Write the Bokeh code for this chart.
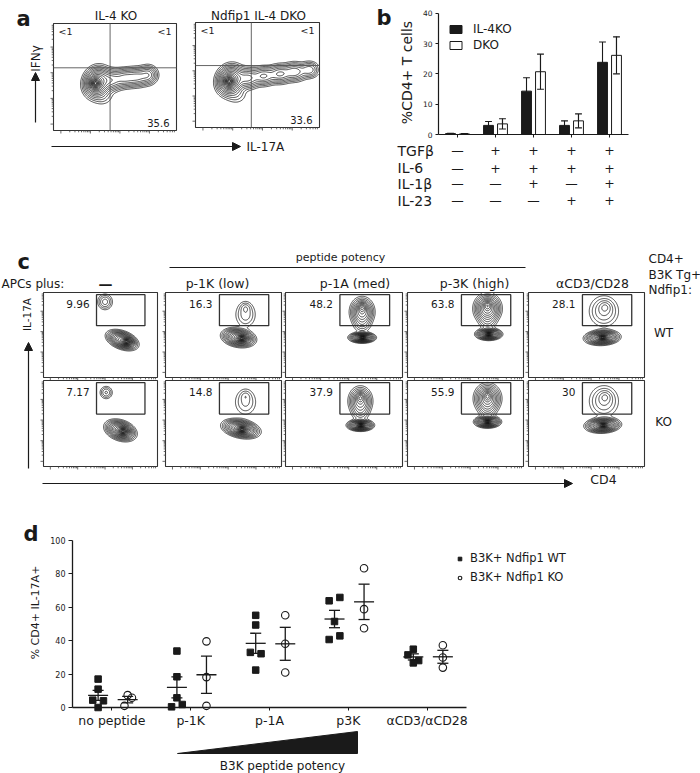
import numpy as np
from bokeh.plotting import figure
from bokeh.models import Range1d, LinearAxis, FixedTicker, Legend, LegendItem, Arrow, NormalHead
from bokeh.core.properties import value
from bokeh.embed import file_html
from bokeh.resources import INLINE

FONT = "DejaVu Sans"
INK = "#1a1a1a"

# ---------------------------------------------------------------- data
# panel a  (flow plots, IFNγ vs IL-17A)
a_titles = ["IL-4 KO", "Ndfip1 IL-4 DKO"]
a_top_left = ["<1", "<1"]
a_top_right = ["<1", "<1"]
a_bottom_right = ["35.6", "33.6"]

# panel b  (% CD4+ T cells)
b_groups = ["none", "TGFβ+IL-6", "TGFβ+IL-6+IL-1β", "TGFβ+IL-6+IL-23", "TGFβ+IL-6+IL-1β+IL-23"]
b_il4ko = [0.3, 3.0, 14.3, 3.0, 23.8]
b_il4ko_err = [0.1, 1.3, 4.4, 1.5, 6.7]
b_dko = [0.2, 3.5, 20.7, 4.5, 26.1]
b_dko_err = [0.1, 1.7, 5.8, 2.3, 6.1]
b_yticks = [0, 10, 20, 30, 40]
b_rows = ["TGFβ", "IL-6", "IL-1β", "IL-23"]
b_table = [["—", "+", "+", "+", "+"],
           ["—", "+", "+", "+", "+"],
           ["—", "—", "+", "—", "+"],
           ["—", "—", "—", "+", "+"]]

# panel c  (IL-17A vs CD4 flow plots)
c_columns = ["—", "p-1K (low)", "p-1A (med)", "p-3K (high)", "αCD3/CD28"]
c_rows = ["WT", "KO"]
c_gate_pct = [["9.96", "16.3", "48.2", "63.8", "28.1"],
              ["7.17", "14.8", "37.9", "55.9", "30"]]

# panel d  (% CD4+ IL-17A+)
d_categories = ["no peptide", "p-1K", "p-1A", "p3K", "αCD3/αCD28"]
d_wt = [[17.0, 11.0, 4.4, 4.0, 0.0],
        [33.8, 18.4, 5.8, 0.4, 1.8],
        [55.2, 49.4, 33.0, 32.2, 22.4],
        [63.9, 65.9, 51.5, 40.7, 42.9],
        [34.9, 31.5, 28.1, 26.7]]
d_wt_jitter = [[0, 0, -1, 1, 0], [0, 0, 0, -1, 1], [0, 0, -1, 1, 0], [-1, 1, 0, -1, 1], [0, -1, 1, 0]]
d_ko = [[1.0, 7.4, 5.8],
        [39.6, 18.2, 1.0],
        [55.2, 38.2, 21.0],
        [83.4, 58.9, 47.5],
        [37.3, 29.9, 23.9]]
d_ko_jitter = [[-0.6, 0, 0.8], [0, 0, 0], [0, 0, 0], [0, 0, 0], [0, 0, 0]]
d_yticks = [0, 20, 40, 60, 80, 100]

# flow populations: (u, v, sigma_u, sigma_v, rho, weight) in box-relative units
a_pops = [
    [(0.355, 0.45, 0.05, 0.065, 0.1, 1.0), (0.34, 0.44, 0.022, 0.03, 0.0, 1.2),
     (0.47, 0.47, 0.05, 0.05, 0.0, 0.35), (0.58, 0.49, 0.05, 0.045, 0.0, 0.33),
     (0.68, 0.50, 0.05, 0.045, 0.0, 0.33), (0.77, 0.52, 0.04, 0.045, 0.0, 0.28),
     (0.40, 0.32, 0.05, 0.05, 0.0, 0.06)],
    [(0.28, 0.45, 0.05, 0.065, 0.1, 1.0), (0.27, 0.44, 0.022, 0.03, 0.0, 1.2),
     (0.42, 0.47, 0.05, 0.05, 0.0, 0.35), (0.55, 0.49, 0.05, 0.045, 0.0, 0.33),
     (0.68, 0.51, 0.05, 0.045, 0.0, 0.33), (0.80, 0.53, 0.05, 0.045, 0.0, 0.3),
     (0.92, 0.55, 0.04, 0.04, 0.0, 0.22), (0.33, 0.31, 0.05, 0.05, 0.0, 0.06)],
]
c_pops = [
    [  # WT row
        [(0.69, 0.44, 0.055, 0.047, -0.4, 1.0), (0.73, 0.42, 0.025, 0.022, 0.0, 1.3),
         (0.54, 0.89, 0.035, 0.05, 0.0, 0.14)],
        [(0.63, 0.47, 0.058, 0.045, -0.2, 1.0), (0.66, 0.46, 0.025, 0.02, 0.0, 1.2),
         (0.69, 0.74, 0.05, 0.085, 0.0, 0.1), (0.69, 0.82, 0.025, 0.035, 0.0, 0.06)],
        [(0.655, 0.47, 0.045, 0.025, 0.0, 1.0), (0.66, 0.47, 0.02, 0.012, 0.0, 1.0),
         (0.655, 0.77, 0.045, 0.075, 0.0, 0.5), (0.655, 0.82, 0.02, 0.03, 0.0, 0.45),
         (0.655, 0.62, 0.04, 0.05, 0.0, 0.08)],
        [(0.70, 0.51, 0.045, 0.028, 0.0, 1.0), (0.70, 0.51, 0.02, 0.012, 0.0, 1.0),
         (0.69, 0.81, 0.05, 0.075, 0.0, 0.65), (0.69, 0.85, 0.02, 0.03, 0.0, 0.45),
         (0.69, 0.65, 0.04, 0.05, 0.0, 0.08)],
        [(0.635, 0.47, 0.06, 0.035, 0.1, 1.0), (0.64, 0.47, 0.025, 0.014, 0.0, 1.0),
         (0.65, 0.78, 0.07, 0.1, 0.0, 0.12), (0.66, 0.83, 0.03, 0.04, 0.0, 0.08)],
    ],
    [  # KO row
        [(0.675, 0.42, 0.055, 0.05, -0.3, 1.0), (0.70, 0.41, 0.025, 0.024, 0.0, 1.3),
         (0.55, 0.86, 0.03, 0.04, 0.0, 0.13)],
        [(0.65, 0.44, 0.065, 0.045, -0.3, 1.0), (0.66, 0.43, 0.025, 0.02, 0.0, 1.2),
         (0.69, 0.75, 0.055, 0.09, 0.0, 0.09), (0.69, 0.82, 0.025, 0.035, 0.0, 0.05)],
        [(0.64, 0.48, 0.045, 0.027, 0.0, 1.0), (0.645, 0.48, 0.02, 0.012, 0.0, 1.0),
         (0.64, 0.76, 0.045, 0.075, 0.0, 0.42), (0.64, 0.80, 0.02, 0.03, 0.0, 0.35),
         (0.64, 0.62, 0.04, 0.05, 0.0, 0.08)],
        [(0.69, 0.52, 0.045, 0.028, 0.0, 1.0), (0.69, 0.52, 0.02, 0.012, 0.0, 1.0),
         (0.69, 0.79, 0.05, 0.075, 0.0, 0.55), (0.69, 0.82, 0.02, 0.03, 0.0, 0.4),
         (0.69, 0.65, 0.04, 0.05, 0.0, 0.08)],
        [(0.64, 0.48, 0.06, 0.035, 0.1, 1.0), (0.645, 0.48, 0.025, 0.014, 0.0, 1.0),
         (0.65, 0.76, 0.07, 0.1, 0.0, 0.12), (0.66, 0.81, 0.03, 0.04, 0.0, 0.08)],
    ],
]

# ---------------------------------------------------------------- layout
W, H = 700, 773
X0, Y0 = 0, 0                      # the page template has no body margin
A_BOXES = [(53, 23, 176, 130), (195, 22, 319, 127)]
A_QUAD = [(0.46, 0.586), (0.45, 0.59)]
C_COLS = [(43, 157), (165, 281), (285, 402), (407, 523), (528, 644)]
C_ROWS = [(292, 377), (380, 466)]
GATE = (0.465, 0.89, 0.61, 0.975)

p = figure(width=W, height=H, x_range=Range1d(X0, X0 + W), y_range=Range1d(Y0 + H, Y0),
           output_backend="svg", toolbar_location=None, min_border=0,
           x_axis_location=None, y_axis_location=None, outline_line_color=None,
           background_fill_color="white", border_fill_color="white")
p.title.visible = False
p.xgrid.grid_line_color = None
p.ygrid.grid_line_color = None


def span_range(pa, va, pb, vb, lo, hi):
    k = (vb - va) / (pb - pa)
    return Range1d(start=va + (lo - pa) * k, end=va + (hi - pa) * k)


p.extra_x_ranges = {"bx": span_range(438, 0.5, 628, 5.5, X0, X0 + W),
                    "dx": span_range(72, 0.5, 466, 5.5, X0, X0 + W)}
p.extra_y_ranges = {"by": span_range(134, 0, 12.7, 40, Y0 + H, Y0),
                    "dy": span_range(707, 0, 540, 100, Y0 + H, Y0)}


def txt(x, y, s, size, align="left", baseline="middle", angle=0.0, bold=False, color=INK, **kw):
    p.text(x=[x], y=[y], text=[s], text_font=value(FONT), text_font_size=f"{size}px",
           text_align=align, text_baseline=baseline, angle=angle, text_color=color,
           text_font_style="bold" if bold else "normal", **kw)


def arrow(xs, ys, xe, ye):
    p.add_layout(Arrow(end=NormalHead(size=8, fill_color=INK, line_color=INK),
                       x_start=xs, y_start=ys, x_end=xe, y_end=ye, line_color=INK, line_width=1.2))


LEVELS = np.array([0.012, 0.022, 0.036, 0.055, 0.08, 0.11, 0.15, 0.2, 0.26, 0.33, 0.41,
                   0.5, 0.59, 0.68, 0.76, 0.84, 0.91, 0.96])


def flow_plot(box, pops):
    x0, y0, x1, y1 = box
    xs = np.linspace(x0 + 1, x1 - 1, 160)
    ys = np.linspace(y0 + 1, y1 - 1, 130)
    X, Y = np.meshgrid(xs, ys)
    U = (X - x0) / (x1 - x0)
    V = (y1 - Y) / (y1 - y0)
    Z = np.zeros_like(X)
    for (pu, pv, su, sv, rho, w) in pops:
        du = (U - pu) / su
        dv = (V - pv) / sv
        Z += w * np.exp(-(du * du - 2 * rho * du * dv + dv * dv) / (2 * (1 - rho * rho)))
    p.contour(xs, ys, Z, list(LEVELS * Z.max()), line_color="#111111", line_width=0.75)
    p.quad(left=[x0], right=[x1], top=[y0], bottom=[y1], fill_color=None, line_color="#333333", line_width=1.1)
    # log-like edge ticks
    sx0, sy0, sx1, sy1 = [], [], [], []
    for d in (0.06, 0.30, 0.54, 0.78):
        for k in range(1, 10):
            f = d + 0.24 * np.log10(k)
            if f >= 0.99:
                continue
            L = 3.0 if k == 1 else 1.8
            xx = x0 + f * (x1 - x0)
            sx0 += [xx]; sy0 += [y1]; sx1 += [xx]; sy1 += [y1 + L]
            yy = y1 - f * (y1 - y0)
            sx0 += [x0]; sy0 += [yy]; sx1 += [x0 - L]; sy1 += [yy]
    p.segment(sx0, sy0, sx1, sy1, line_color="#444444", line_width=0.8)


# ---------------------------------------------------------------- panel a
txt(16, 18.5, "a", 21, baseline="alphabetic", bold=True)
for i, box in enumerate(A_BOXES):
    x0, y0, x1, y1 = box
    flow_plot(box, a_pops[i])
    qu, qv = A_QUAD[i]
    p.segment([x0 + qu * (x1 - x0), x0], [y0, y1 - qv * (y1 - y0)],
              [x0 + qu * (x1 - x0), x1], [y1, y1 - qv * (y1 - y0)], line_color="#555555", line_width=0.9)
    txt((x0 + x1) / 2 + 1, 15, a_titles[i], 12, align="center")
    txt(x0 + 5, y0 + 8, a_top_left[i], 9.5)
    txt(x1 - 5, y0 + 8, a_top_right[i], 9.5, align="right")
    txt(x1 - 7, y1 - 8, a_bottom_right[i], 10, align="right")
txt(35, 58, "IFNγ", 12, align="center", angle=np.pi / 2)
arrow(35, 122, 35, 72)
arrow(51, 146, 240, 146)
txt(246, 146, "IL-17A", 12)

# ---------------------------------------------------------------- panel b
txt(376, 17, "b", 21, baseline="alphabetic", bold=True)
BAR_W, BAR_OFF, CAP = 0.26, 0.184, 0.09
gx = np.arange(1, len(b_groups) + 1)
xk = gx - BAR_OFF
xd = gx + BAR_OFF
for xs_, vals, errs in ((xk, b_il4ko, b_il4ko_err), (xd, b_dko, b_dko_err)):
    v = np.array(vals); e = np.array(errs)
    p.segment(xs_, v - e, xs_, v + e, line_color=INK, line_width=1.1, x_range_name="bx", y_range_name="by")
    p.segment(xs_ - CAP, v + e, xs_ + CAP, v + e, line_color=INK, line_width=1.1, x_range_name="bx", y_range_name="by")
rk = p.vbar(x=xk, top=b_il4ko, bottom=0, width=BAR_W, fill_color=INK, line_color=INK, line_width=1,
            x_range_name="bx", y_range_name="by")
rd = p.vbar(x=xd, top=b_dko, bottom=0, width=BAR_W, fill_color="white", line_color=INK, line_width=1,
            x_range_name="bx", y_range_name="by")
# error bars of the white bars are visible inside them too
v = np.array(b_dko); e = np.array(b_dko_err)
p.segment(xd, v - e, xd, v + e, line_color=INK, line_width=1.1, x_range_name="bx", y_range_name="by")
p.segment(xd - CAP, v - e, xd + CAP, v - e, line_color=INK, line_width=1.1, x_range_name="bx", y_range_name="by")

b_yaxis = LinearAxis(x_range_name="bx", y_range_name="by", fixed_location=0.5, bounds=(0, 40),
                     ticker=FixedTicker(ticks=b_yticks), minor_tick_line_color=None,
                     major_tick_out=3, major_tick_in=0, major_label_standoff=3,
                     major_label_text_font=FONT, major_label_text_font_size="7.5px",
                     major_label_text_color=INK, axis_line_color=INK, major_tick_line_color=INK,
                     axis_line_width=1.2)
p.add_layout(b_yaxis, "left")
# the x axis of b carries the first row of the condition table as its tick labels
b_xaxis = LinearAxis(x_range_name="bx", y_range_name="by", fixed_location=0, bounds=(0.5, 5.5),
                     ticker=FixedTicker(ticks=[int(g) for g in gx]), minor_tick_line_color=None,
                     major_label_overrides={int(g): b_table[0][i] for i, g in enumerate(gx)},
                     major_tick_out=3, major_tick_in=0, major_label_standoff=5,
                     major_label_text_font=FONT, major_label_text_font_size="12.5px",
                     major_label_text_color=INK, axis_line_color=INK, major_tick_line_color=INK,
                     axis_line_width=1.2)
p.add_layout(b_xaxis, "below")
txt(406, 72, "%CD4+ T cells", 14, align="center", angle=np.pi / 2)

b_legend = Legend(items=[LegendItem(label="IL-4KO", renderers=[rk]), LegendItem(label="DKO", renderers=[rd])],
                  location=(448, H - 52), glyph_width=15, glyph_height=10, label_height=14, spacing=2,
                  padding=0, margin=0, label_standoff=10, border_line_color=None, background_fill_alpha=0,
                  label_text_font=FONT, label_text_font_size="12px", label_text_color=INK)
p.add_layout(b_legend)

B_ROW_Y = [150, 167.5, 183, 200]
for r, lab in enumerate(b_rows):
    txt(397, B_ROW_Y[r], lab, 14)
    if r == 0:
        continue
    for g in range(len(b_groups)):
        p.text(x=[gx[g]], y=[B_ROW_Y[r]], text=[b_table[r][g]], text_font=value(FONT),
               text_font_size="12.5px", text_align="center", text_baseline="middle", text_color=INK,
               x_range_name="bx")

# ---------------------------------------------------------------- panel c
txt(17, 261, "c", 21, baseline="alphabetic", bold=True)
txt(340, 257, "peptide potency", 11, align="center")
p.segment([169], [267], [525], [267], line_color=INK, line_width=1)
txt(1, 283, "APCs plus:", 12)
for j, lab in enumerate(c_columns):
    cx = (C_COLS[j][0] + C_COLS[j][1]) / 2
    if j == 0:
        txt(105, 283, lab, 14, align="center", bold=True)
    else:
        txt(cx + [0, -6, 11, 9, 6][j], 283, lab, 12.5, align="center")
txt(648, 258, "CD4+", 12)
txt(648, 274, "B3K Tg+", 12)
txt(648, 289.5, "Ndfip1:", 12)
for r in range(2):
    ry0, ry1 = C_ROWS[r]
    for j in range(5):
        cx0, cx1 = C_COLS[j]
        box = (cx0, ry0, cx1, ry1)
        flow_plot(box, c_pops[r][j])
        gu0, gu1, gv0, gv1 = GATE
        p.quad(left=[cx0 + gu0 * (cx1 - cx0)], right=[cx0 + gu1 * (cx1 - cx0)],
               top=[ry1 - gv1 * (ry1 - ry0)], bottom=[ry1 - gv0 * (ry1 - ry0)],
               fill_color=None, line_color="#333333", line_width=1.3)
        txt(cx0 + 0.405 * (cx1 - cx0), ry0 + 11.5, c_gate_pct[r][j], 10.5, align="right")
    txt(663, (ry0 + ry1) / 2 - 2, c_rows[r], 12, align="center")
txt(26, 314, "IL-17A", 10.5, align="center", angle=np.pi / 2)
arrow(28, 468, 28, 342)
arrow(42, 483, 572, 483)
txt(603, 479, "CD4", 12.5, align="center")

# ---------------------------------------------------------------- panel d
txt(23, 533, "d", 21, baseline="alphabetic", bold=True)
OFF_WT, OFF_KO, JIT, MEAN_HW, SEM_HW = -0.175, 0.2, 0.068, 0.127, 0.07
wt_x, wt_y, ko_x, ko_y = [], [], [], []
mx, my, sx, slo, shi = [], [], [], [], []
for k in range(len(d_categories)):
    c = k + 1
    for val, j in zip(d_wt[k], d_wt_jitter[k]):
        wt_x.append(c + OFF_WT + j * JIT); wt_y.append(val)
    for val, j in zip(d_ko[k], d_ko_jitter[k]):
        ko_x.append(c + OFF_KO + j * JIT); ko_y.append(val)
    for off, vals in ((OFF_WT, d_wt[k]), (OFF_KO, d_ko[k])):
        a = np.array(vals)
        m = a.mean(); s = a.std(ddof=1) / np.sqrt(len(a))
        mx.append(c + off); my.append(m); sx.append(c + off); slo.append(m - s); shi.append(m + s)
rw = p.scatter(wt_x, wt_y, marker="square", size=6.5, fill_color=INK, line_color=INK,
               x_range_name="dx", y_range_name="dy")
rko = p.scatter(ko_x, ko_y, marker="circle", size=7.5, fill_color=None, line_color=INK, line_width=1.1,
                x_range_name="dx", y_range_name="dy")
mx = np.array(mx); sx = np.array(sx)
p.segment(mx - MEAN_HW, my, mx + MEAN_HW, my, line_color=INK, line_width=1.3, x_range_name="dx", y_range_name="dy")
p.segment(sx, slo, sx, shi, line_color=INK, line_width=1.3, x_range_name="dx", y_range_name="dy")
p.segment(sx - SEM_HW, shi, sx + SEM_HW, shi, line_color=INK, line_width=1.3, x_range_name="dx", y_range_name="dy")
p.segment(sx - SEM_HW, slo, sx + SEM_HW, slo, line_color=INK, line_width=1.3, x_range_name="dx", y_range_name="dy")

d_yaxis = LinearAxis(x_range_name="dx", y_range_name="dy", fixed_location=0.5, bounds=(0, 100),
                     ticker=FixedTicker(ticks=d_yticks), minor_tick_line_color=None,
                     major_tick_out=4, major_tick_in=0, major_label_standoff=3,
                     major_label_text_font=FONT, major_label_text_font_size="8px",
                     major_label_text_color=INK, axis_line_color=INK, major_tick_line_color=INK,
                     axis_line_width=1.3)
p.add_layout(d_yaxis, "left")
d_xaxis = LinearAxis(x_range_name="dx", y_range_name="dy", fixed_location=0, bounds=(0.5, 5.5),
                     ticker=FixedTicker(ticks=list(range(1, 6))), minor_tick_line_color=None,
                     major_label_overrides={i + 1: lab for i, lab in enumerate(d_categories)},
                     major_tick_out=3, major_tick_in=0, major_label_standoff=2,
                     major_label_text_font=FONT, major_label_text_font_size="12.5px",
                     major_label_text_color=INK, axis_line_color=INK, major_tick_line_color=INK,
                     axis_line_width=1.3)
p.add_layout(d_xaxis, "below")
txt(35, 612, "% CD4+ IL-17A+", 11, align="center", angle=np.pi / 2)

d_legend = Legend(items=[LegendItem(label="B3K+ Ndfip1 WT", renderers=[rw]),
                         LegendItem(label="B3K+ Ndfip1 KO", renderers=[rko])],
                  location=(455, H - 584), glyph_width=9, glyph_height=13, label_height=13, spacing=5,
                  padding=0, margin=0, label_standoff=6, border_line_color=None, background_fill_alpha=0,
                  label_text_font=FONT, label_text_font_size="11.5px", label_text_color=INK)
p.add_layout(d_legend)

p.patch([177, 357, 357], [753, 731, 753], fill_color=INK, line_color=INK)
txt(282, 765, "B3K peptide potency", 12, align="center")

open("out.html", "w").write(file_html(p, INLINE))
